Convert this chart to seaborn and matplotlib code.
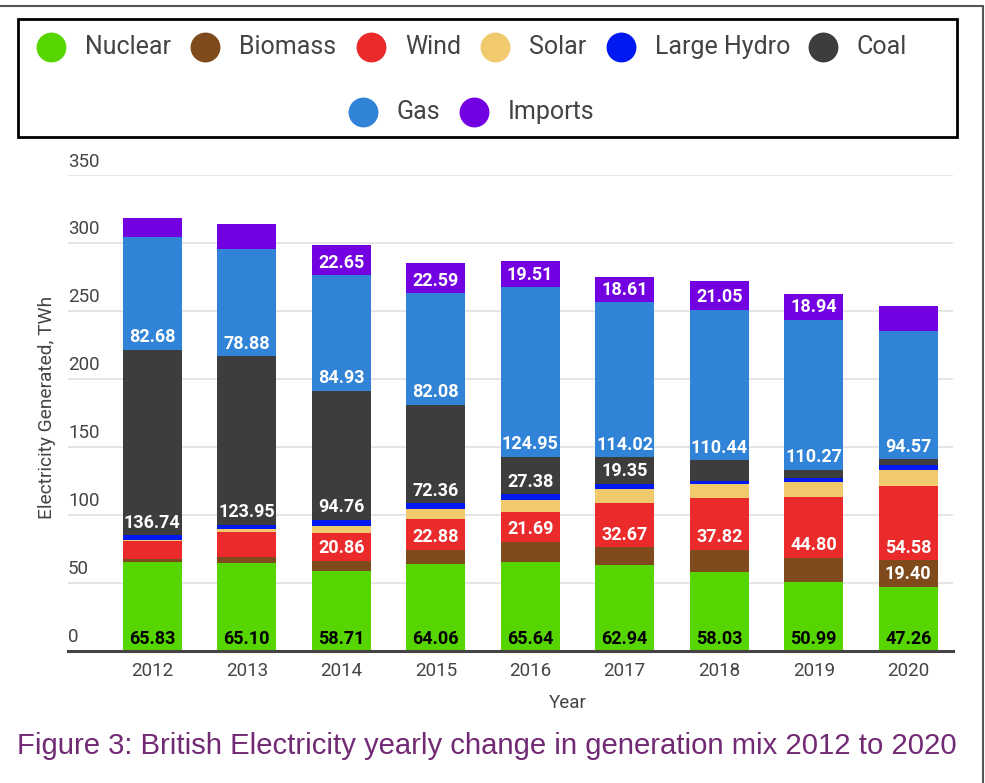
import numpy as np
import pandas as pd
import matplotlib
matplotlib.use("Agg")
import matplotlib.pyplot as plt
import seaborn as sns
from matplotlib.lines import Line2D
from matplotlib.patches import Rectangle
import matplotlib.transforms as mtransforms

# ---------------- data ----------------
years = ["2012", "2013", "2014", "2015", "2016", "2017", "2018", "2019", "2020"]
nuclear = [65.83, 65.10, 58.71, 64.06, 65.64, 62.94, 58.03, 50.99, 47.26]
biomass = [1.7, 4.2, 7.6, 10.3, 14.7, 13.5, 16.4, 17.5, 19.40]
wind = [13.5, 18.4, 20.86, 22.88, 21.69, 32.67, 37.82, 44.80, 54.58]
solar = [1.0, 2.0, 5.0, 7.4, 9.3, 9.9, 10.8, 11.0, 11.8]
large_hydro = [3.0, 3.2, 4.6, 4.2, 4.2, 4.2, 2.0, 3.0, 4.2]
coal = [136.74, 123.95, 94.76, 72.36, 27.38, 19.35, 15.5, 6.1, 3.9]
gas = [82.68, 78.88, 84.93, 82.08, 124.95, 114.02, 110.44, 110.27, 94.57]
imports = [14.0, 18.2, 22.65, 22.59, 19.51, 18.61, 21.05, 18.94, 17.9]

series_names = ["Nuclear", "Biomass", "Wind", "Solar", "Large Hydro", "Coal", "Gas", "Imports"]
series_values = [nuclear, biomass, wind, solar, large_hydro, coal, gas, imports]
colors = ["#57D500", "#7F4B1D", "#EB2B2B", "#F0CA6C", "#0019F0", "#3D3D3D", "#3083D6", "#7300E0"]
y_ticks = [0, 50, 100, 150, 200, 250, 300, 350]
caption = "Figure 3: British Electricity yearly change in generation mix 2012 to 2020"

# ---------------- style ----------------
sns.set_theme(style="white")
plt.rcParams["font.family"] = ["Roboto", "DejaVu Sans"]

W, H = 985, 783
fig = plt.figure(figsize=(W / 100, H / 100), dpi=100)

def fx(px):
    return px / W

def fy(py):
    return 1 - py / H

ax_left, ax_right, ax_top, ax_bot = 68, 953, 175.4, 651
ax = fig.add_axes([fx(ax_left), fy(ax_bot), (ax_right - ax_left) / W, (ax_bot - ax_top) / H])

bottom = np.zeros(len(years))
for name, vals, col in zip(series_names, series_values, colors):
    vals = np.asarray(vals, dtype=float)
    df = pd.DataFrame({"Year": years, "TWh": vals})
    sns.barplot(data=df, x="Year", y="TWh", order=years, color=col, saturation=1,
                width=0.624, bottom=bottom.copy(), errorbar=None, linewidth=0, ax=ax)
    for i, v in enumerate(vals):
        if name == "Nuclear" or v >= 18.5:
            ax.annotate(f"{v:.2f}", (i, bottom[i]), xytext=(0, 2.5), textcoords="offset points",
                        ha="center", va="bottom", fontsize=13, fontweight="bold",
                        color="black" if name == "Nuclear" else "white", zorder=5)
    bottom += vals

ax.set_xlim(-0.891, 8.474)
ax.set_ylim(0, 350)
ax.set_yticks(y_ticks)
ax.set_yticklabels([])
ax.yaxis.grid(True, color="#e0e0e0", lw=1.2)
ax.set_axisbelow(True)
for s in ["top", "right", "left"]:
    ax.spines[s].set_visible(False)
ax.spines["bottom"].set_color("#444444")
ax.spines["bottom"].set_linewidth(2.2)
ax.tick_params(axis="y", length=0)
ax.tick_params(axis="x", length=0, pad=8, labelsize=13.5, labelcolor="#444444")
ax.set_xlabel("")
ax.set_ylabel("")

blend = mtransforms.blended_transform_factory(ax.transAxes, ax.transData)
for t in y_ticks:
    ax.annotate(str(t), (0, t), xycoords=blend, xytext=(0, 3.5), textcoords="offset points",
                ha="left", va="bottom", fontsize=13.5, color="#444444", annotation_clip=False)

fig.text(fx(568), fy(703), "Year", ha="center", va="center", fontsize=13.5, color="#444444")
fig.text(fx(47), fy(407), "Electricity Generated, TWh", ha="center", va="center",
         rotation=90, fontsize=13.8, color="#444444")

# caption
fig.text(fx(17), fy(746), caption, ha="left", va="center", fontsize=21.1,
         family=["Liberation Sans", "DejaVu Sans"], color="#722A74")

# legend box
fig.add_artist(Rectangle((fx(18), fy(136.7)), (957.3 - 18) / W, (136.7 - 19) / H,
                         transform=fig.transFigure, fill=False, edgecolor="black", lw=2))
row1 = [51, 205, 371, 495, 621, 823]
row2 = [363, 474]
centers = [(c, 47) for c in row1] + [(c, 112) for c in row2]
for (cx, cy), name, col in zip(centers, series_names, colors):
    fig.add_artist(Line2D([fx(cx)], [fy(cy)], marker="o", markersize=21.5, color=col,
                          markeredgewidth=0, transform=fig.transFigure))
    fig.text(fx(cx + 34), fy(cy), name, ha="left", va="center", fontsize=18, color="#444444")

# outer frame lines
fig.add_artist(Line2D([0, fx(983)], [fy(6), fy(6)], color="#555555", lw=1.5, transform=fig.transFigure))
fig.add_artist(Line2D([fx(983), fx(983)], [fy(6), 0], color="#555555", lw=1.5, transform=fig.transFigure))

fig.savefig("out.png", dpi=100)
